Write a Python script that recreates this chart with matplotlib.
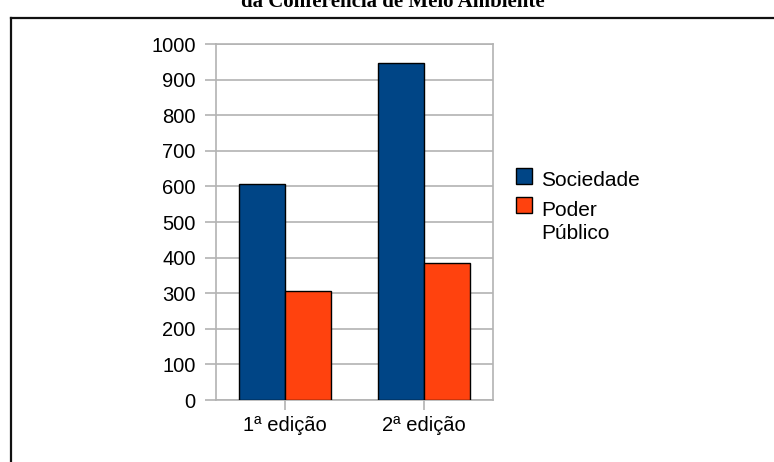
import matplotlib
matplotlib.use("Agg")
import matplotlib.pyplot as plt
import numpy as np
from matplotlib.patches import Rectangle
from matplotlib.lines import Line2D

categories = ["1ª edição", "2ª edição"]
series_names = ["Sociedade", "Poder\nPúblico"]
sociedade = [607, 948]
poder_publico = [305, 386]
colors = ["#004586", "#ff420e"]
y_ticks = [0, 100, 200, 300, 400, 500, 600, 700, 800, 900, 1000]

plt.rcParams["font.family"] = ["Liberation Sans", "DejaVu Sans"]

W, H = 774, 462
fig = plt.figure(figsize=(W / 100, H / 100), dpi=100)
fig.patch.set_facecolor("white")

ax = fig.add_axes([216 / W, 1 - 400 / H, (493 - 216) / W, (400 - 44) / H])

x = np.arange(len(categories))
bw = 1 / 3
grid_c = "#b3b3b3"

series = [sociedade, poder_publico]
offsets = [-bw / 2, bw / 2]
for vals, off, col in zip(series, offsets, colors):
    ax.bar(x + off, vals, width=bw, color=col, edgecolor="black",
           linewidth=1, zorder=3)

ax.set_xlim(-0.5, 1.5)
ax.set_ylim(0, 1000)
ax.set_yticks(y_ticks)
ax.set_xticks(x)
ax.set_xticklabels(categories)
ax.yaxis.grid(True, color=grid_c, linewidth=1.2, zorder=0)
ax.set_axisbelow(True)
for s in ax.spines.values():
    s.set_color(grid_c)
    s.set_linewidth(1.2)
ax.tick_params(axis="y", direction="out", length=8, width=1.2, color=grid_c,
               labelsize=14.5, pad=6.5, labelcolor="black")
ax.tick_params(axis="x", direction="out", length=7.5, width=1.2, color=grid_c,
               labelsize=14.5, pad=4, labelcolor="black")

# legend: square key aligned with the first line of each entry
key_tops = [168, 197]
line_h = 23
for name, col, top in zip(series_names, colors, key_tops):
    fig.add_artist(Rectangle((516 / W, 1 - (top + 16) / H), 16 / W, 16 / H,
                             facecolor=col, edgecolor="black", linewidth=1,
                             transform=fig.transFigure))
    for i, line in enumerate(name.split("\n")):
        fig.text(541 / W, 1 - (top + 18.5 + i * line_h) / H, line,
                 fontsize=15, va="baseline", ha="left")

# outer frame of the chart area
fig.add_artist(Line2D([11 / W, 11 / W], [0, 1 - 18 / H], color="#111111",
                      linewidth=1.6, transform=fig.transFigure))
fig.add_artist(Line2D([11 / W, 1], [1 - 18 / H, 1 - 18 / H], color="#111111",
                      linewidth=1.6, transform=fig.transFigure))

fig.text(393 / W, 1 - 7 / H, "da Conferência de Meio Ambiente",
         family=["Liberation Serif", "DejaVu Serif"], weight="bold",
         fontsize=15, ha="center", va="baseline")

fig.savefig("out.png", dpi=100)
